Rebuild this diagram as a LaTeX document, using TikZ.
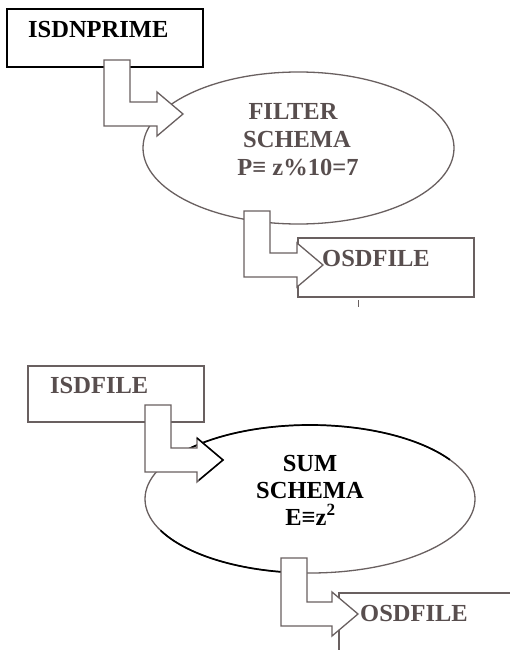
\documentclass[tikz,border=0pt]{standalone}
\usepackage{fontspec}
\setmainfont{Liberation Serif}
\usetikzlibrary{shapes.geometric,calc}
\definecolor{gline}{RGB}{105,96,96}
\definecolor{gtxt}{RGB}{88,78,78}
% #1 stem left x, #2 stem top y, #3 band top y, #4 head start x
\newcommand\LArrow[4]{%
  \draw[blockarrow] (#1,#2) -- (#1+26,#2) -- (#1+26,#3) -- (#4,#3) -- (#4,#3-10)
    -- (#4+26,#3+12) -- (#4,#3+34) -- (#4,#3+24) -- (#1,#3+24) -- cycle;}
\tikzset{
  blockarrow/.style={draw=gline, fill=white, line width=1.3pt, line join=miter},
  filebox/.style={draw=gline, line width=1.3pt, rectangle, inner sep=0pt},
  schemaoval/.style={draw=gline, line width=1.3pt, ellipse, inner sep=0pt},
  lbl/.style={font=\fontsize{24.5}{28}\selectfont\bfseries, inner sep=0pt, anchor=base, text=gtxt},
}
\begin{document}
\begin{tikzpicture}[x=1pt,y=-1pt]
\clip (0,0) rectangle (510,650);
\fill[white] (0,0) rectangle (510,650);

% ---------- upper diagram ----------
\node[filebox, draw=black, line width=1.8pt, minimum width=196pt, minimum height=58pt] (inA) at (105,38) {};
\node[lbl, text=black, anchor=base west] (inAt) at (28,38) {ISDNPRIME};

\node[schemaoval, minimum width=311pt, minimum height=152pt] (e1) at (298.5,148) {};
\node[lbl] (f1) at (293,120) {FILTER};
\node[lbl] (f2) at (297,147) {SCHEMA};
\node[lbl] (f3) at (298,175) {P≡ z\%10=7};

\node[filebox, minimum width=176pt, minimum height=59pt] (outA) at (386,267.5) {};
\draw[gline, line width=1pt] (358,300) -- (358,307);

\LArrow{104}{60}{102}{157}
\LArrow{244}{211}{253}{297}
\node[lbl, anchor=base west] (outAt) at (322,266) {OSDFILE};

% ---------- lower diagram ----------
\node[filebox, minimum width=176pt, minimum height=56pt] (inB) at (116,394) {};
\node[lbl, anchor=base west] (inBt) at (50,393) {ISDFILE};

\node[schemaoval, minimum width=330pt, minimum height=148pt] (e2) at (310,499) {};
\draw[black, line width=1.7pt] ($(e2.center)+(32:165pt and 74pt)$)
  arc[start angle=32, end angle=140, x radius=165pt, y radius=74pt];
\draw[black, line width=1.7pt] ($(e2.center)+(205:165pt and 74pt)$)
  arc[start angle=205, end angle=265, x radius=165pt, y radius=74pt];
\node[lbl, text=black] (s1) at (310,471) {SUM};
\node[lbl, text=black] (s2) at (310,498) {SCHEMA};
\node[lbl, text=black] (s3) at (310.5,525) {E≡z\textsuperscript{2}};

\node[filebox, minimum width=190pt, minimum height=100pt] (outB) at (434,643) {};

\LArrow{145}{405}{448}{197}
\draw[black, line width=1.5pt] (197,438) -- (223,460) -- (199,480);
\LArrow{281}{558}{602}{332}
\node[lbl, anchor=base west] (outBt) at (360,621.5) {OSDFILE};
\end{tikzpicture}
\end{document}
